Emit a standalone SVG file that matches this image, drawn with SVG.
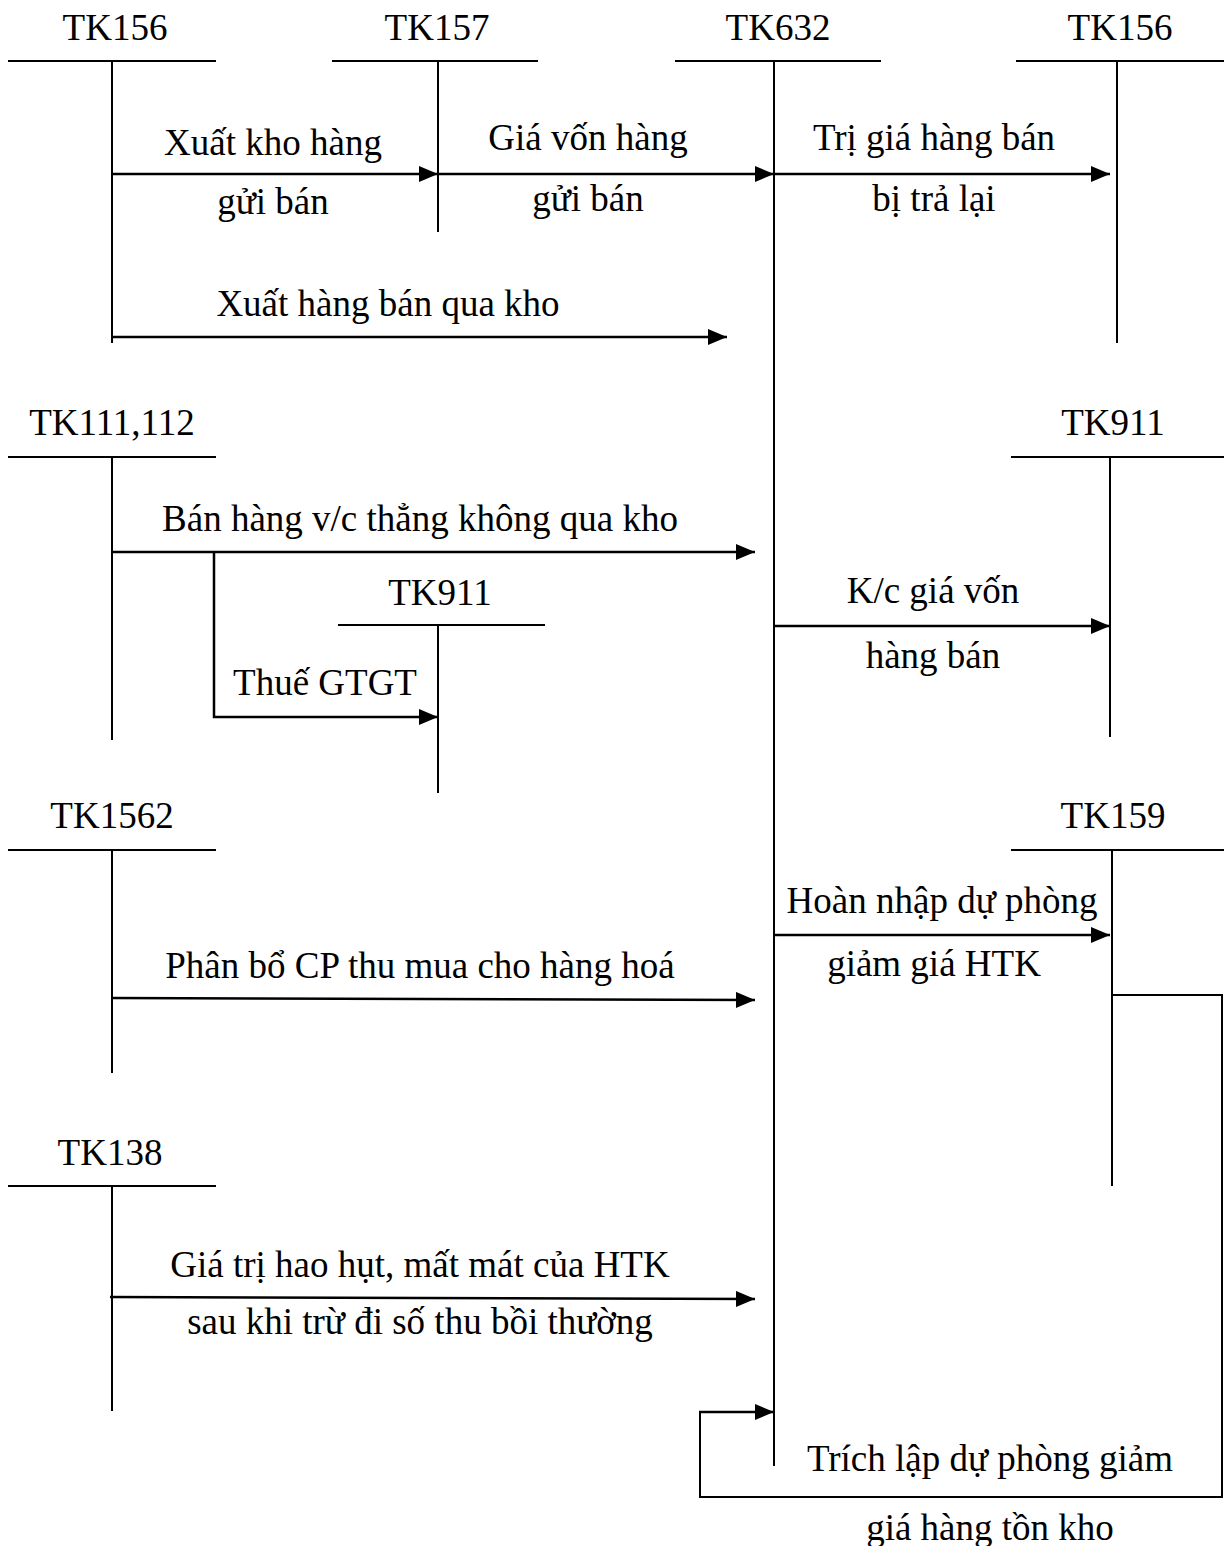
<svg xmlns="http://www.w3.org/2000/svg" width="1224" height="1546" viewBox="0 0 1224 1546">
<style>
text{font-family:"Liberation Serif","Times New Roman",serif;font-size:37px;fill:#000;text-anchor:middle}
.t{stroke:#000;stroke-width:2;fill:none}
.a{stroke:#000;stroke-width:2.5;fill:none;marker-end:url(#ah)}
.l{stroke:#000;stroke-width:2;fill:none}
</style>
<defs>
<marker id="ah" markerUnits="userSpaceOnUse" markerWidth="22" markerHeight="18" refX="19" refY="8" orient="auto">
<path d="M0,0 L19,8 L0,16 z" fill="#000"/>
</marker>
</defs>
<rect width="1224" height="1546" fill="#fff"/>
<g id="tk156a"><text x="115" y="40">TK156</text><path class="t" d="M8,61H216M112,61V343"/></g>
<g id="tk157"><text x="437" y="40">TK157</text><path class="t" d="M332,61H538M438,61V232"/></g>
<g id="tk632"><text x="778" y="40">TK632</text><path class="t" d="M675,61H881M774,61V1466"/></g>
<g id="tk156b"><text x="1120" y="40">TK156</text><path class="t" d="M1016,61H1224M1117,61V343"/></g>
<g id="tk111"><text x="112" y="435">TK111,112</text><path class="t" d="M8,457H216M112,457V740"/></g>
<g id="tk911b"><text x="1113" y="435">TK911</text><path class="t" d="M1011,457H1224M1110,457V737"/></g>
<g id="tk911a"><text x="440" y="605">TK911</text><path class="t" d="M338,625H545M438,625V793"/></g>
<g id="tk1562"><text x="112" y="828">TK1562</text><path class="t" d="M8,850H216M112,850V1073"/></g>
<g id="tk159"><text x="1113" y="828">TK159</text><path class="t" d="M1011,850H1224M1112,850V1186"/></g>
<g id="tk138"><text x="110" y="1165">TK138</text><path class="t" d="M8,1186H216M112,1186V1411"/></g>
<g id="connectors">
<path class="a" d="M112,174H438"/>
<path class="a" d="M438,174H774"/>
<path class="a" d="M774,174H1110"/>
<path class="a" d="M112,337H727"/>
<path class="a" d="M112,552H755"/>
<path class="a" d="M214,552V717H438"/>
<path class="a" d="M774,626H1110"/>
<path class="a" d="M112,998L755,1000"/>
<path class="a" d="M774,935H1110"/>
<path class="l" d="M1112,995H1222V1497H700V1412"/>
<path class="a" d="M699,1412H774"/>
<path class="a" d="M110,1297L755,1299"/>
</g>
<g id="labels">
<text x="273" y="155">Xuất kho hàng</text>
<text x="273" y="214">gửi bán</text>
<text x="588" y="150">Giá vốn hàng</text>
<text x="588" y="211">gửi bán</text>
<text x="934" y="150">Trị giá hàng bán</text>
<text x="934" y="211">bị trả lại</text>
<text x="388" y="316">Xuất hàng bán qua kho</text>
<text x="420" y="531">Bán hàng v/c thẳng không qua kho</text>
<text x="325" y="695">Thuế GTGT</text>
<text x="933" y="603">K/c giá vốn</text>
<text x="933" y="668">hàng bán</text>
<text x="942" y="913">Hoàn nhập dự phòng</text>
<text x="934" y="976">giảm giá HTK</text>
<text x="420" y="978">Phân bổ CP thu mua cho hàng hoá</text>
<text x="420" y="1277">Giá trị hao hụt, mất mát của HTK</text>
<text x="420" y="1334">sau khi trừ đi số thu bồi thường</text>
<text x="990" y="1471">Trích lập dự phòng giảm</text>
<text x="990" y="1540">giá hàng tồn kho</text>
</g>
</svg>
